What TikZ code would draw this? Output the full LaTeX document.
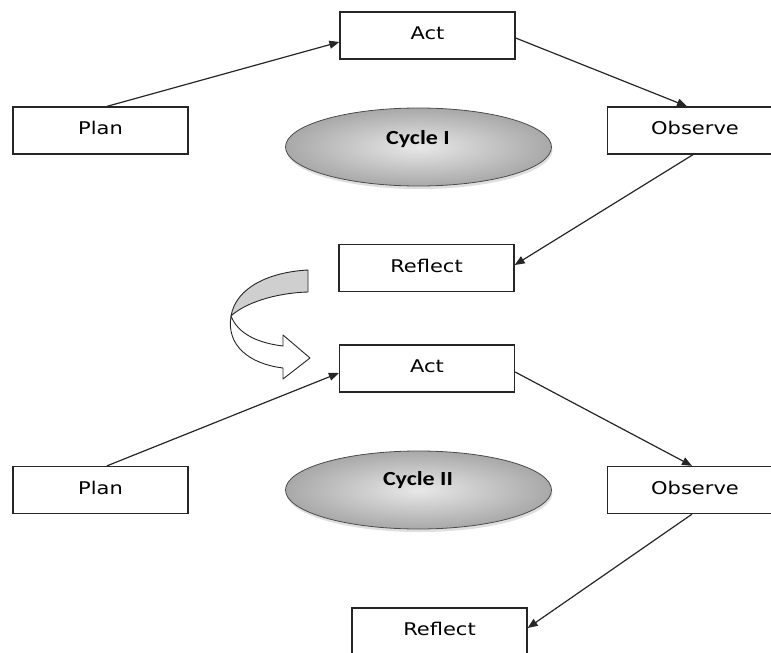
\documentclass[tikz,border=0pt]{standalone}
\usepackage{fontspec}
\newfontfamily\boxfont[FakeStretch=1.2]{DejaVu Sans}
\newfontfamily\cycfont[FakeStretch=1.2]{Carlito}
\usetikzlibrary{arrows.meta,shapes.geometric,shadows}
\begin{document}
\begin{tikzpicture}[x=1pt,y=-1pt,
  stagebox/.style={draw=black!85, line width=1.3pt, fill=white,
    minimum width=175pt, minimum height=47pt, inner sep=0pt,
    font=\boxfont\fontsize{17.5}{20}\selectfont, text height=12pt, text depth=4pt},
  cyc/.style={ellipse, draw=gray!60!black, line width=0.8pt,
    minimum width=266pt, minimum height=78pt, inner sep=0pt,
    inner color=gray!18, outer color=gray!68,
    drop shadow={opacity=0.25, shadow xshift=1pt, shadow yshift=-3pt}},
  cyctext/.style={anchor=base, font=\cycfont\bfseries\fontsize{20}{24}\selectfont},
  arr/.style={draw=black!85, line width=1.2pt, -{Triangle[length=10pt,width=8pt]}},
  ribbon/.style={draw=black!85, line width=0.9pt, line join=round}
]
\useasboundingbox (0,0) rectangle (771,653);

% Cycle I
\node[stagebox] (act1) at (427.5,35.5) {Act};
\node[stagebox] (plan1) at (100.5,130.5) {Plan};
\node[stagebox] (obs1) at (695,130.5) {Observe};
\node[stagebox] (ref1) at (426.5,268) {Reflect};
\node[cyc] (ell1) at (418.5,147) {};
\node[cyctext] (cyc1) at (418,144.5) {Cycle I};

\draw[arr] ([xshift=6.5pt]plan1.north) -- ([yshift=-6.5pt]act1.west);
\draw[arr] ([yshift=-2.5pt]act1.east) -- ([xshift=-8pt]obs1.north);
\draw[arr] ([xshift=-2pt]obs1.south) -- ([yshift=3pt]ref1.east);

% Cycle II
\node[stagebox] (act2) at (427,368.5) {Act};
\node[stagebox] (plan2) at (100.5,490) {Plan};
\node[stagebox] (obs2) at (695,490) {Observe};
\node[stagebox] (ref2) at (439.5,631.5) {Reflect};
\node[cyc] (ell2) at (418.5,490) {};
\node[cyctext] (cyc2) at (418,485.5) {Cycle II};

\draw[arr] ([xshift=6.5pt]plan2.north) -- ([yshift=-4.5pt]act2.west);
\draw[arr] ([yshift=-3.5pt]act2.east) -- ([xshift=-3pt]obs2.north);
\draw[arr] ([xshift=-3pt]obs2.south) -- ([yshift=3.5pt]ref2.east);

% curved transition arrow
\filldraw[ribbon, fill=gray!38]
  (308,270) .. controls (270,272) and (236,287) .. (231,316)
  .. controls (245,303) and (275,293) .. (308,292) -- cycle;
\filldraw[ribbon, fill=white]
  (231,316) .. controls (238,334) and (258,343) .. (283,346)
  -- (283,335) -- (310,358) -- (283,379) -- (283,368)
  .. controls (250,364) and (226,346) .. (231,316) -- cycle;
\end{tikzpicture}
\end{document}
